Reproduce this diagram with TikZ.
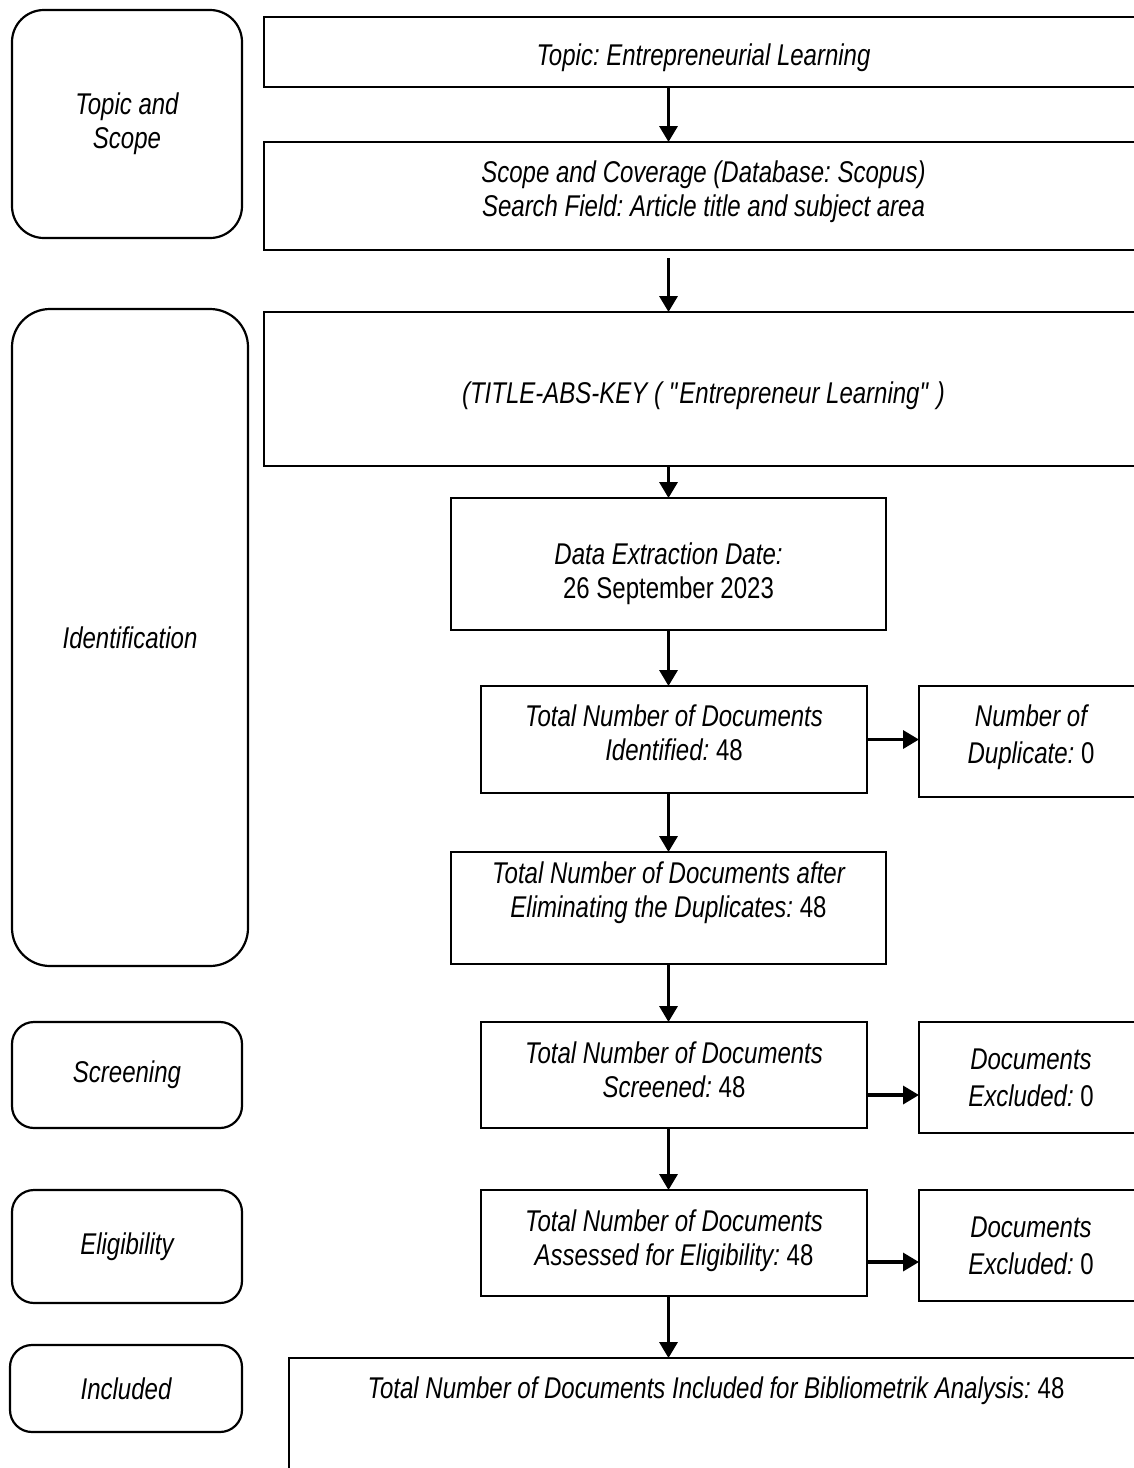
\documentclass[tikz,border=0pt]{standalone}
\usepackage{fontspec}
\setmainfont{Liberation Sans}[FakeStretch=0.8]
\usetikzlibrary{shapes,arrows.meta,positioning}
\newcommand{\upnum}[1]{{\upshape #1}}
\frenchspacing

\begin{document}
\begin{tikzpicture}[x=0.5pt, y=-0.5pt, font=\fontsize{15}{17}\selectfont\itshape\frenchspacing]
  \tikzstyle{stage} = [rectangle, rounded corners=11pt, draw, line width=1.1pt, anchor=north west, inner sep=0pt, outer sep=0pt, align=flush center]
  \tikzstyle{box} =   [rectangle, draw, line width=1.1pt, anchor=north west, inner sep=0pt, outer sep=0pt, align=flush center]
  \tikzstyle{wide} =  [box, text width=439.5pt]
  \tikzstyle{side} =  [box, text width=112pt, font=\fontsize{15}{18.5}\selectfont\itshape\frenchspacing]
  \tikzstyle{line} =  [draw, line width=1.7pt, -{Triangle[width=9pt,length=8pt]}]
  \useasboundingbox (0,0) rectangle (1134,1468);
  % Stages on the left
  \node [stage, rounded corners=16pt, minimum width=115pt, minimum height=114pt] (s-topic) at (12,10) {Topic and\\Scope};
  \node [stage, rounded corners=19pt, minimum width=118pt, minimum height=328.5pt] (s-ident) at (12,309) {Identification};
  \node [stage, minimum width=115pt, minimum height=53pt] (s-screen) at (12,1022) {Screening};
  \node [stage, minimum width=115pt, minimum height=56.5pt] (s-elig) at (12,1190) {Eligibility};
  \node [stage, minimum width=116pt, minimum height=43.5pt] (s-incl) at (10,1345) {Included};
  % Place nodes
  \node [wide, text height=24pt, text depth=11pt] (topic) at (264,17) {Topic: Entrepreneurial Learning};
  \node [wide, text height=20pt, text depth=34pt] (scope) at (264,142) {Scope and Coverage (Database: Scopus)\\Search Field: Article title and subject area};
  \node [wide, text height=45.5pt, text depth=31.5pt] (query) at (264,312) {(TITLE-ABS-KEY ( \textquotedbl Entrepreneur Learning\textquotedbl\ )};
  \node [box, text width=217.5pt, text height=33pt, text depth=33pt] (date) at (451,498) {Data Extraction Date:\\\upnum{26 September 2023}};
  \node [box, text width=193pt, text height=20pt, text depth=33.5pt] (ident) at (481,686) {Total Number of Documents\\Identified: \upnum{48}};
  \node [side, text height=20pt, text depth=35.5pt] (dup) at (919,686) {Number of\\Duplicate: \upnum{0}};
  \node [box, text width=217.5pt, text height=15.5pt, text depth=40.5pt] (nodup) at (451,852) {Total Number of Documents after\\Eliminating the Duplicates: \upnum{48}};
  \node [box, text width=193pt, text height=20.5pt, text depth=32.5pt] (screen) at (481,1022) {Total Number of Documents\\Screened: \upnum{48}};
  \node [side, text height=23.5pt, text depth=32pt] (excl-s) at (919,1022) {Documents\\Excluded: \upnum{0}};
  \node [box, text width=193pt, text height=20.5pt, text depth=32.5pt] (elig) at (481,1190) {Total Number of Documents\\Assessed for Eligibility: \upnum{48}};
  \node [side, text height=23.5pt, text depth=32pt] (excl-e) at (919,1190) {Documents\\Excluded: \upnum{0}};
  \node [wide, text width=427pt, text height=20pt, text depth=60pt] (incl) at (289,1358) {Total Number of Documents Included for Bibliometrik Analysis: \upnum{48}};

  \path [line] (topic.south -| date) -- (scope.north -| date);
  \path [line] ([yshift=-4pt]scope.south -| date) -- (query.north -| date);
  \path [line] (query.south -| date) -- (date);
  \path [line] (date) -- (date |- ident.north);
  \path [line] (ident.south -| nodup) -- (nodup);
  \path [line] (nodup) -- (nodup |- screen.north);
  \path [line] (screen.south -| nodup) -- (nodup |- elig.north);
  \path [line] (elig.south -| nodup) -- (nodup |- incl.north);
  \path [line] (ident) -- (ident -| dup.west);
  \path [line] ([yshift=-10pt]screen.east) -- ([yshift=-10pt]screen.east -| excl-s.west);
  \path [line] ([yshift=-9.5pt]elig.east) -- ([yshift=-9.5pt]elig.east -| excl-e.west);
\end{tikzpicture}
\end{document}
